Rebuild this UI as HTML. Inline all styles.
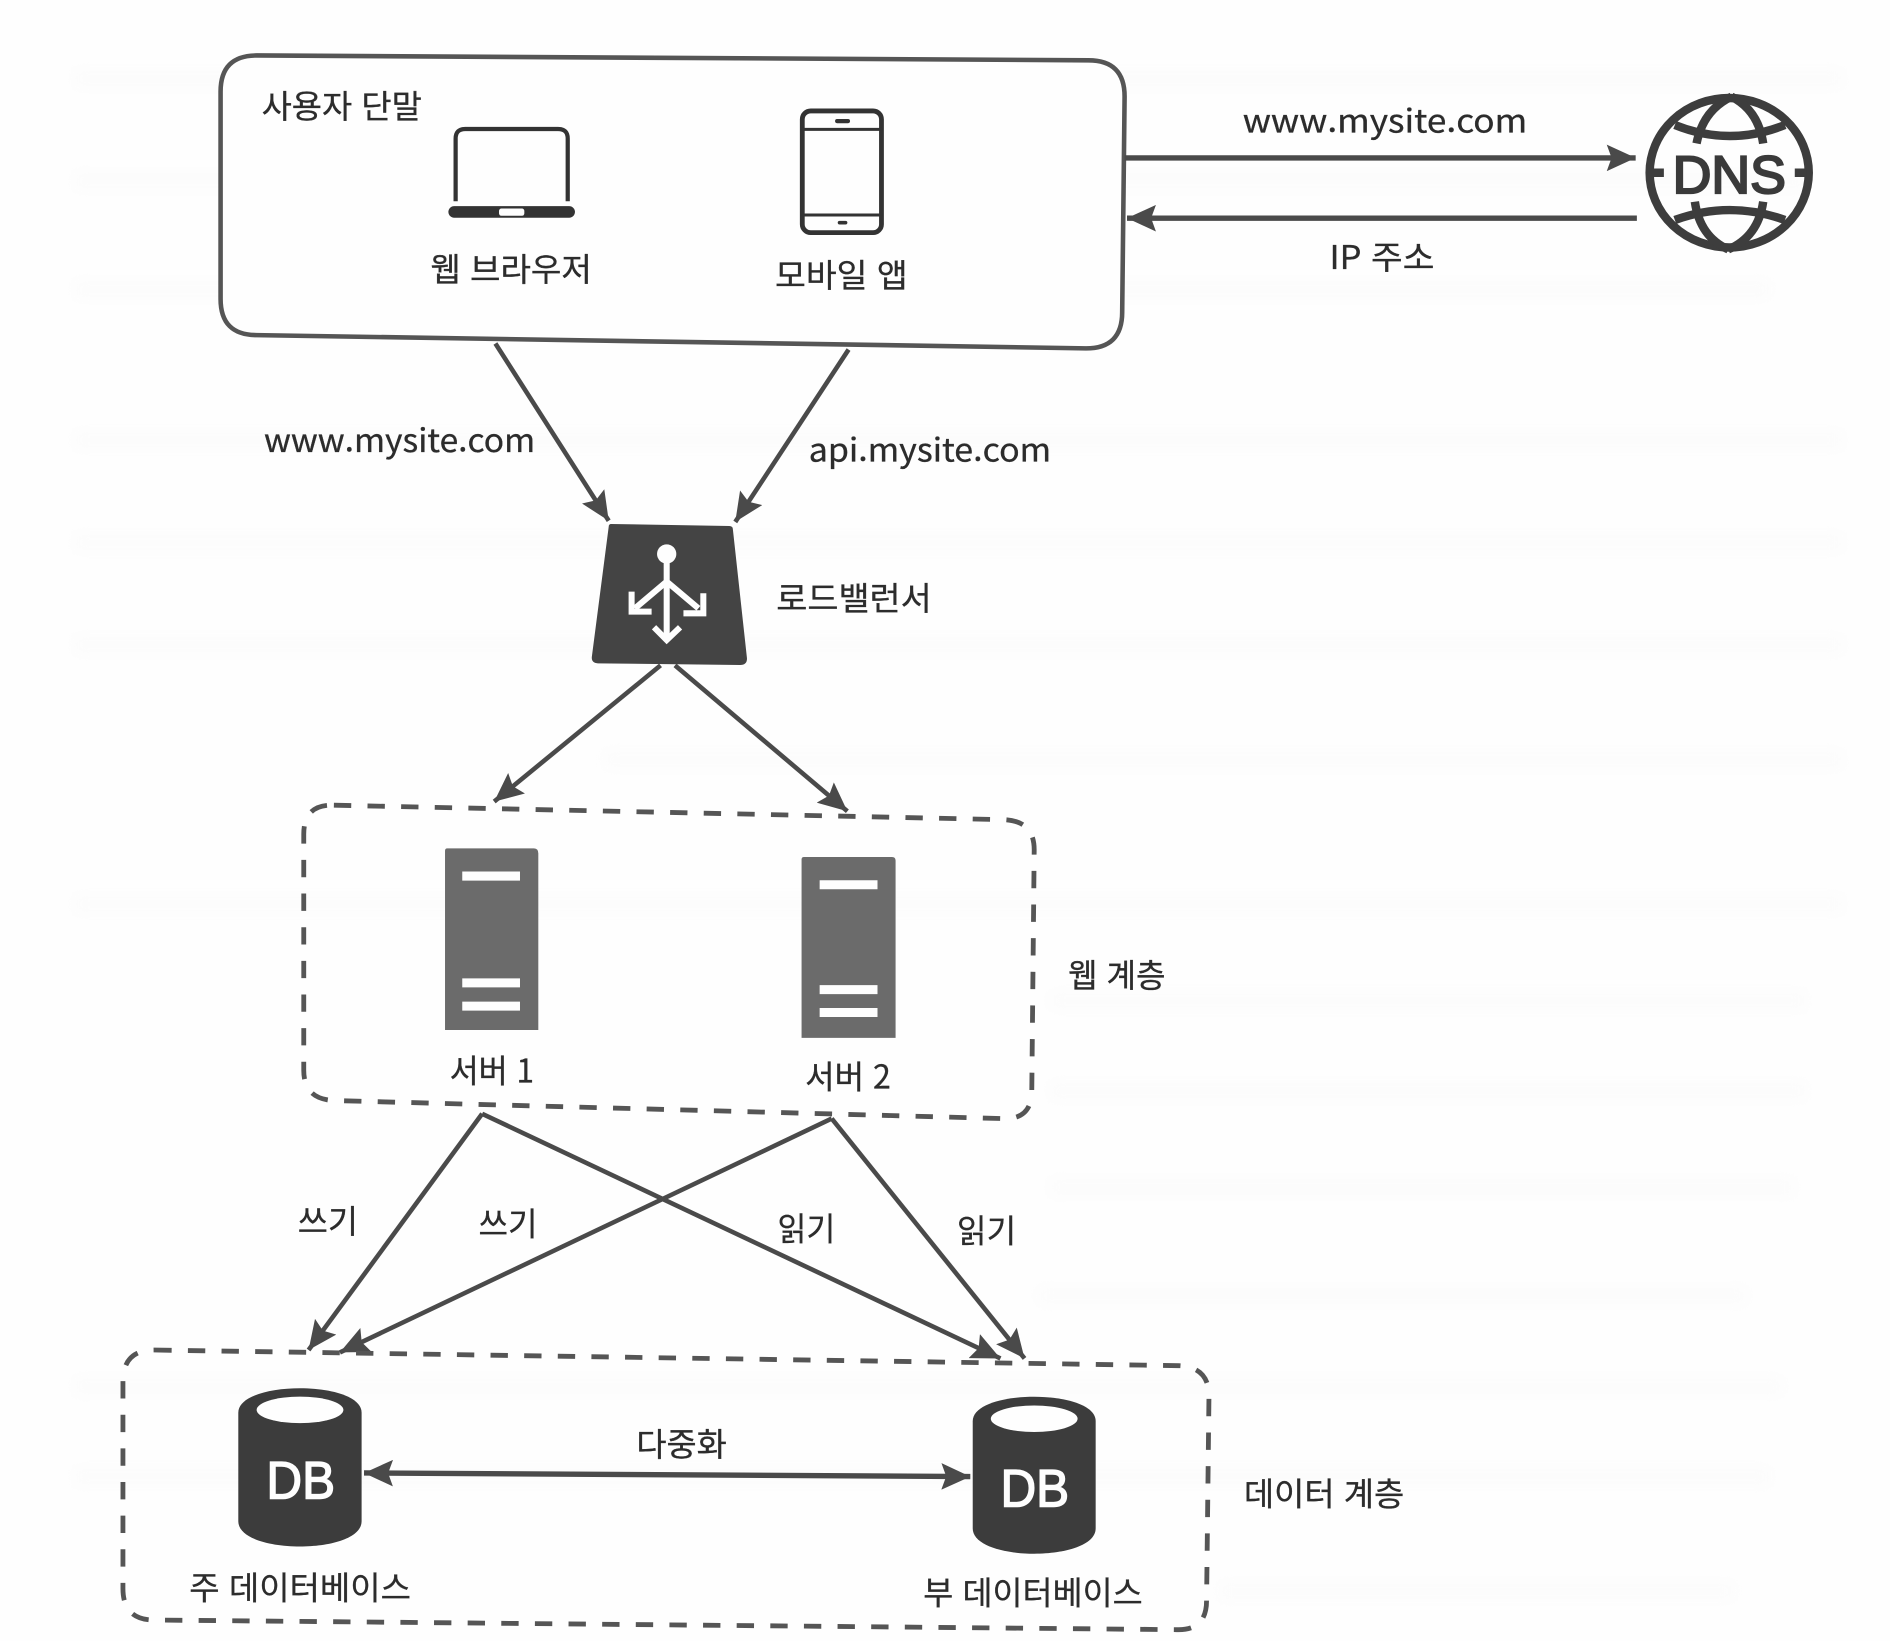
<!DOCTYPE html>
<html lang="ko"><head><meta charset="utf-8"><title>diagram</title>
<style>html,body{margin:0;padding:0;background:#fefefe}svg{display:block}
text{font-family:"Liberation Sans","Noto Sans CJK KR",sans-serif;fill:#2c2c2c}
.k{font-family:"Noto Sans CJK KR","Liberation Sans",sans-serif;font-size:27px;stroke:#2c2c2c;stroke-width:.25}
</style></head><body>
<svg xmlns="http://www.w3.org/2000/svg" width="1890" height="1641" viewBox="0 0 1568 1361.4">
<defs>
<filter id="b"><feGaussianBlur stdDeviation="6"/></filter>
<marker id="a" markerUnits="userSpaceOnUse" markerWidth="26" markerHeight="22" refX="24" refY="11" orient="auto-start-reverse"><path d="M0 0L24 11L0 22L4 11Z" fill="#4a4a4a"/></marker>
</defs>
<rect width="1568" height="1361.4" fill="#fefefe"/>
<g filter="url(#b)" stroke="#fcfcfc" stroke-width="16">
<path d="M60 65H1530M60 150H1500M60 240H1470M60 365H1530M60 450H1530M60 535H1530M500 630H1530M60 750H1530M870 830H1500M870 905H1500M870 985H1490M860 1075H1450M60 1150H1480M60 1225H1470M1010 1320H1440"/>
</g>

<path d="M213 46L903 50Q933 50 933 80L931 259Q931 289 901 289L213 278Q183 278 183 248L183 76Q183 46 213 46Z" fill="#fefefe" stroke="#555" stroke-width="3.8"/>

<!-- laptop -->
<path d="M378 167V115Q378 107 386 107H463Q471 107 471 115V167" fill="none" stroke="#333" stroke-width="3.5"/>
<rect x="372" y="171" width="105" height="9.600" rx="4.800" fill="#333"/>
<rect x="414" y="173" width="21" height="6" rx="2" fill="#fefefe"/>
<!-- phone -->
<rect x="665.600" y="92" width="65.700" height="101" rx="7" fill="#fefefe" stroke="#333" stroke-width="4"/>
<path d="M665 107.300H732M665 178.400H732" stroke="#333" stroke-width="2.500"/>
<rect x="692.800" y="98.700" width="12.400" height="3.500" rx="1.700" fill="#333"/><rect x="695" y="183.200" width="8" height="3" rx="1.500" fill="#333"/>

<!-- DNS -->
<g fill="none" stroke="#3d3d3d" stroke-width="7">
<ellipse cx="1434.600" cy="143.300" rx="66" ry="62"/>
<path d="M1389.500 103.700Q1435 122 1480.800 103.700M1389.500 182.500Q1435 166 1480.800 182.500"/>
<path d="M1436.500 80.200Q1413 91.300 1407.500 119M1436.500 80.200Q1458.600 91.300 1462.800 119"/>
<path d="M1433.800 206.900Q1410.300 196.400 1406.100 167.300M1433.800 206.900Q1458.600 196.400 1462.800 167.300"/>
<path d="M1370 143.300H1380.400M1489 143.300H1499"/>
</g>
<text x="1387.700" y="160" font-size="44" textLength="94" lengthAdjust="spacingAndGlyphs" style="fill:#3a3a3a;stroke:#3a3a3a;stroke-width:1.800">DNS</text>

<g stroke="#4a4a4a" stroke-width="3.800" fill="none" marker-end="url(#a)">
<path d="M933 131H1357" stroke-width="4.500"/>
<path d="M1358 181H935" stroke-width="4.500"/>
<path d="M411 285L505 432"/>
<path d="M704 290L610 433"/>
<path d="M548 552L410 665"/>
<path d="M560 552L703 673"/>
<path d="M400 924L256 1120"/>
<path d="M400 924L830 1127"/>
<path d="M690 928L282 1122"/>
<path d="M690 928L850 1127"/>
<path d="M302 1222L805 1225" marker-start="url(#a)" stroke-width="4.500"/>
</g>

<!-- LB -->
<path d="M507 434.700L605 436.400Q608 436.500 608 439L619.700 546Q620 551.700 614 551.700L496 550.300Q490.500 550 491 545L505 437Q505 434.700 507 434.700Z" fill="#444"/>
<g stroke="#fefefe" stroke-width="5" fill="none">
<circle cx="553.100" cy="459.600" r="8" fill="#fefefe" stroke="none"/>
<path d="M553.100 462V531M553.100 482.500L526.800 504.700M553.100 482.500L579.400 504.700"/>
<path d="M542.600 520.400L553.100 531L564.200 520.400M524 490.800V507.400H540.600M583.500 492.200V508.800H567"/>
</g>

<!-- web tier -->
<path d="M277 668L833 680Q858 681 858 705L856 905Q856 929 832 928L277 913Q252 912 252 888L252 692Q252 667 277 668Z" fill="none" stroke="#555" stroke-width="4" stroke-dasharray="14.400 13.500"/>
<path d="M371 703.800H443Q446.600 703.800 446.600 708V854.500H369.200V706Q369.200 703.800 371 703.800Z" fill="#6b6b6b"/>
<path d="M667 711H740Q743 711 743 714V861H665V713Q665 711 667 711Z" fill="#6b6b6b"/>
<path d="M383.500 726.800H431.400M383.500 815.400H431.400M383.500 834.700H431.400M680 734H728M680 821H728M680 840H728" stroke="#fefefe" stroke-width="7.500"/>

<!-- data tier -->
<path d="M128 1120L978 1133Q1003 1134 1003 1158L1001 1328Q1001 1353 976 1352L128 1344Q102 1344 102 1318L102 1146Q102 1120 128 1120Z" fill="none" stroke="#555" stroke-width="4" stroke-dasharray="14.400 13.500"/>
<g fill="#3c3c3c">
<path d="M197.700 1172C197.700 1145 300 1145 300 1172V1262C300 1290 197.700 1290 197.700 1262Z"/>
<path d="M807 1179C807 1152 909 1152 909 1179V1268C909 1296 807 1296 807 1268Z"/>
</g>
<ellipse cx="248.900" cy="1169.700" rx="36" ry="11" fill="#fefefe"/>
<ellipse cx="858" cy="1177" rx="36" ry="11" fill="#fefefe"/>
<text x="221" y="1243" font-size="44" textLength="57" lengthAdjust="spacingAndGlyphs" style="fill:#fefefe;stroke:#fefefe;stroke-width:1.200">DB</text>
<text x="830" y="1250" font-size="44" textLength="57" lengthAdjust="spacingAndGlyphs" style="fill:#fefefe;stroke:#fefefe;stroke-width:1.200">DB</text>

<!-- labels -->
<g class="k">
<text class="k" x="217" y="98" textLength="133" lengthAdjust="spacingAndGlyphs">사용자 단말</text>
<text class="k" x="357" y="233" textLength="134" lengthAdjust="spacingAndGlyphs">웹 브라우저</text>
<text class="k" x="643" y="238" textLength="110" lengthAdjust="spacingAndGlyphs">모바일 앱</text>
<text class="k" x="1031" y="110" textLength="236" lengthAdjust="spacingAndGlyphs">www.mysite.com</text>
<text class="k" x="1103" y="223" textLength="87" lengthAdjust="spacingAndGlyphs">IP 주소</text>
<text class="k" x="219" y="375" textLength="225" lengthAdjust="spacingAndGlyphs">www.mysite.com</text>
<text class="k" x="671" y="383" textLength="201" lengthAdjust="spacingAndGlyphs">api.mysite.com</text>
<text class="k" x="644" y="506" textLength="129" lengthAdjust="spacingAndGlyphs">로드밸런서</text>
<text class="k" x="886" y="819" textLength="81" lengthAdjust="spacingAndGlyphs">웹 계층</text>
<text class="k" x="373" y="898" textLength="70" lengthAdjust="spacingAndGlyphs">서버 1</text>
<text class="k" x="668" y="903" textLength="71" lengthAdjust="spacingAndGlyphs">서버 2</text>
<text class="k" x="247" y="1023" textLength="50" lengthAdjust="spacingAndGlyphs">쓰기</text>
<text class="k" x="397" y="1025" textLength="49" lengthAdjust="spacingAndGlyphs">쓰기</text>
<text class="k" x="645" y="1029" textLength="48" lengthAdjust="spacingAndGlyphs">읽기</text>
<text class="k" x="794" y="1031" textLength="49" lengthAdjust="spacingAndGlyphs">읽기</text>
<text class="k" x="528" y="1208" textLength="75" lengthAdjust="spacingAndGlyphs">다중화</text>
<text class="k" x="1032" y="1249" textLength="133" lengthAdjust="spacingAndGlyphs">데이터 계층</text>
<text class="k" x="157" y="1327" textLength="184" lengthAdjust="spacingAndGlyphs">주 데이터베이스</text>
<text class="k" x="766" y="1331" textLength="182" lengthAdjust="spacingAndGlyphs">부 데이터베이스</text>
</g>
</svg>
</body></html>
